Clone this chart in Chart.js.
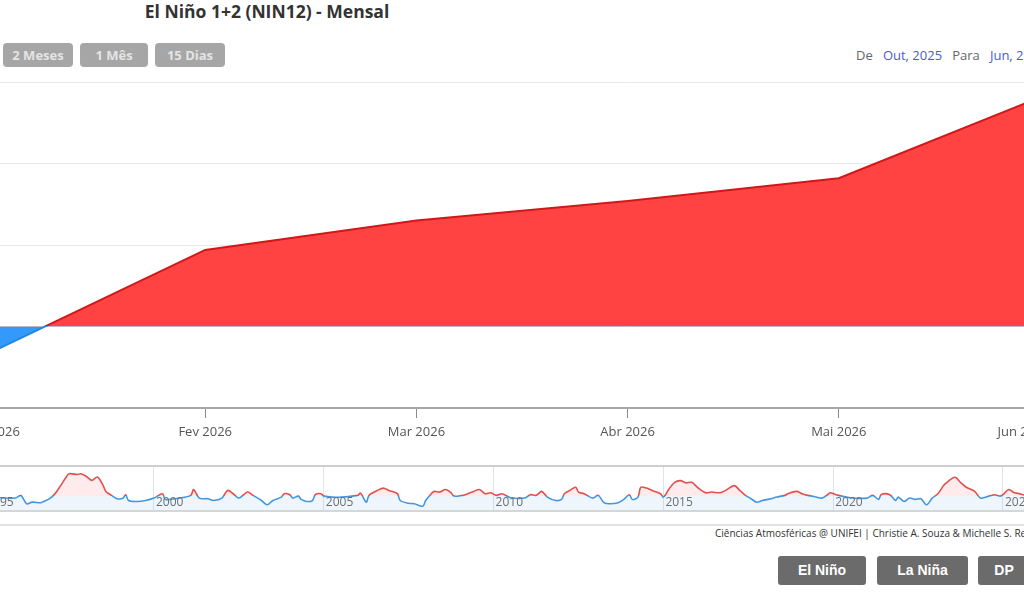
<!DOCTYPE html>
<html lang="pt-BR">
<head>
<meta charset="utf-8">
<title>El Niño 1+2 (NIN12) - Mensal</title>
<script src="https://cdn.jsdelivr.net/npm/chart.js@4.4.0/dist/chart.umd.min.js"></script>
<style>
  html, body { margin: 0; padding: 0; background: #fff; }
  body { width: 1024px; height: 597px; overflow: hidden; position: relative; font-family: "Open Sans", sans-serif; }
  #titulo { position: absolute; left: 0; width: 534px; top: 0; text-align: center; font-weight: bold; font-size: 17.5px; color: #333; line-height: 22px; }
  .botao { position: absolute; top: 43px; height: 24px; line-height: 24px; background: #a6a6a6; color: #e4e4e4; font-weight: bold; font-size: 13px; text-align: center; border-radius: 4px; }
  #periodo { position: absolute; top: 46px; left: 856px; font-size: 13px; color: #666; white-space: nowrap; }
  #periodo span { color: #4a5cc9; }
  .linha { position: absolute; left: 0; width: 1024px; height: 2px; background: #e2e2e2; }
  #creditos { position: absolute; left: 715px; top: 526px; font-size: 10px; color: #333; white-space: nowrap; }
  .acao { position: absolute; top: 556px; height: 29px; line-height: 29px; background: #6b6b6b; color: #fff; font-family: "Liberation Sans", Arial, sans-serif; font-weight: bold; font-size: 14px; text-align: center; border-radius: 3px; }
  canvas { position: absolute; }
</style>
</head>
<body>
<div id="titulo">El Niño 1+2 (NIN12) - Mensal</div>
<div class="botao" style="left:3px;width:70px">2 Meses</div>
<div class="botao" style="left:80px;width:68px">1 Mês</div>
<div class="botao" style="left:155px;width:70px">15 Dias</div>
<div id="periodo">De&nbsp;&nbsp; <span>Out, 2025</span>&nbsp;&nbsp; Para&nbsp;&nbsp; <span>Jun, 2026</span></div>

<canvas id="grafico" width="1760" height="380" style="left:-700px;top:72px"></canvas>
<canvas id="navegador" width="1122" height="45" style="left:-60px;top:466px"></canvas>

<div class="linha" style="top:465px;background:#cfcfcf"></div>
<div class="linha" style="top:510px;background:#d6d6d6"></div>
<div class="linha" style="top:524px"></div>
<div id="creditos">Ciências Atmosféricas @ UNIFEI | Christie A. Souza &amp; Michelle S. Reboita</div>
<div class="acao" style="left:778px;width:88px">El Niño</div>
<div class="acao" style="left:877px;width:91px">La Niña</div>
<div class="acao" style="left:978px;width:52px">DP</div>

<script>
// previsão mensal (eixo principal)
const meses = ["Out 2025", "Nov 2025", "Dez 2025", "Jan 2026", "Fev 2026", "Mar 2026", "Abr 2026", "Mai 2026", "Jun 2026"];
const anomalia = [null, null, null, -0.15, 0.47, 0.65, 0.77, 0.91, 1.43];
const yMin = -0.5, yMax = 1.5, yPasso = 0.5;

// série histórica do navegador
const histDatas = [
  "1995-01", "1995-07", "1995-12", "1996-02", "1996-04", "1996-06", "1996-09", "1996-10", "1996-12",
  "1997-02", "1997-04", "1997-06", "1997-07", "1997-10", "1997-11", "1998-01", "1998-03", "1998-05",
  "1998-07", "1998-08", "1998-10", "1998-12", "1999-02", "1999-03", "1999-04", "1999-07", "1999-10",
  "2000-01", "2000-04", "2000-05", "2000-10", "2001-02", "2001-03", "2001-05", "2001-08", "2001-10",
  "2002-01", "2002-03", "2002-05", "2002-07", "2002-10", "2002-12", "2003-03", "2003-05", "2003-07",
  "2003-10", "2003-11", "2004-01", "2004-02", "2004-04", "2004-05", "2004-07", "2004-09", "2004-10",
  "2004-12", "2005-01", "2005-06", "2006-01", "2006-02", "2006-04", "2006-05", "2006-08", "2006-10",
  "2006-12", "2007-03", "2007-04", "2007-07", "2007-09", "2007-12", "2008-01", "2008-03", "2008-04",
  "2008-06", "2008-08", "2008-10", "2008-11", "2009-02", "2009-03", "2009-06", "2009-08", "2009-10",
  "2009-12", "2010-02", "2010-04", "2010-07", "2010-12", "2011-02", "2011-04", "2011-06", "2011-08",
  "2011-11", "2012-01", "2012-02", "2012-04", "2012-06", "2012-07", "2012-09", "2012-12", "2013-02",
  "2013-04", "2013-06", "2013-09", "2013-11", "2014-01", "2014-02", "2014-04", "2014-05", "2014-07",
  "2014-09", "2014-12", "2015-01", "2015-03", "2015-05", "2015-07", "2015-09", "2015-11", "2016-01",
  "2016-04", "2016-06", "2016-09", "2016-11", "2017-02", "2017-04", "2017-06", "2017-08", "2017-10",
  "2017-12", "2018-03", "2018-05", "2018-08", "2018-09", "2018-12", "2019-02", "2019-04", "2019-07",
  "2019-09", "2019-11", "2019-12", "2020-02", "2020-07", "2021-01", "2021-03", "2021-05", "2021-06",
  "2021-09", "2021-11", "2021-12", "2022-02", "2022-04", "2022-06", "2022-08", "2022-10", "2022-12",
  "2023-02", "2023-04", "2023-05", "2023-08", "2023-10", "2023-12", "2024-03", "2024-05", "2024-07",
  "2024-10", "2024-12", "2025-01", "2025-03", "2025-05", "2025-07", "2025-08"
];
const histValores = [
  -0.2, -0.3, -0.36, 0.1, -1.4, -1.1, -1.2, -0.97, -0.5,
  0.4, 1.9, 3.45, 4.05, 3.9, 4.05, 3.6, 2.85, 3.45,
  1.95, 0.85, 0.13, -0.48, -0.4, 0.25, -0.8, -0.97, -0.8,
  -0.36, 0.42, -0.6, -0.36, 0.13, 1.2, -0.36, -0.48, -0.8,
  -0.36, 1.03, 0.43, -0.36, 0.73, 0.13, -0.8, -1.58, -0.8,
  -0.18, 0.43, 0.25, -0.36, 0, -0.6, -0.97, -0.8, 0.25,
  0.43, 0, -0.2, 0.13, 0.55, -1.1, 0.13, 1.03, 1.45,
  1.03, 0.43, -0.8, -1.3, -1.4, -1.82, -0.8, 0.43, 0.85,
  0.73, 1.2, 0.6, 0, 0.13, 0.25, 0.85, 1.2, 0.43,
  0.6, 0.13, 0.43, -0.3, -0.36, 0.25, 0.13, 0.85, -0.18,
  -0.8, -0.6, 0.43, 1.03, 1.6, 0.73, 0.43, -0.36, 0.13,
  -1.2, -1.4, -1.2, -0.6, 0.25, -0.6, -0.18, 1.6, 1.45,
  1.03, 0.43, -0.18, 1.3, 2.5, 2.8, 2.4, 2.5, 1.6,
  0.6, 0.73, 0.6, 1.03, 1.9, 1.03, 0.13, -0.48, -1.1,
  -0.8, -0.48, -0.18, 0.13, 0.43, 0.85, 0.43, 0.13, -0.18,
  -0.36, 0.25, 0.6, 0.25, -0.3, -0.36, 0.13, -0.6, 0.3,
  0.25, -0.8, -0.18, -0.97, -0.36, -0.6, -0.48, -1.58, -0.36,
  0.43, 1.9, 2.4, 3.4, 2.5, 1.6, 0.85, -0.36, -0.18,
  0.25, 0, 0.25, 1.2, 0.6, 0.43, 0.25
];
const navAnos = [1995, 2000, 2005, 2010, 2015, 2020, 2025];
const navInicio = 1995, navFim = 2026 + 5 / 12;
const navMin = -2.7, navMax = 5.45;

const siglas = { Jan: 1, Fev: 2, Mar: 3, Abr: 4, Mai: 5, Jun: 6, Jul: 7, Ago: 8, Set: 9, Out: 10, Nov: 11, Dez: 12 };

function anoDecimal(ano, mes) {
  return ano + (mes - 1) / 12;
}

// cor acima / abaixo de zero, com corte seco no zero
function gradienteZero(chart, acima, abaixo) {
  const { ctx, chartArea, scales } = chart;
  if (!chartArea) return acima;
  const zero = scales.y.getPixelForValue(0);
  let f = (zero - chartArea.top) / (chartArea.bottom - chartArea.top);
  f = Math.min(Math.max(f, 0), 1);
  const g = ctx.createLinearGradient(0, chartArea.top, 0, chartArea.bottom);
  g.addColorStop(0, acima);
  g.addColorStop(f, acima);
  g.addColorStop(f, abaixo);
  g.addColorStop(1, abaixo);
  return g;
}

// rótulos dos anos dentro do navegador, à direita de cada linha
const rotulosAnos = {
  id: "rotulosAnos",
  afterDatasetsDraw(chart) {
    const { ctx, chartArea, scales } = chart;
    ctx.save();
    ctx.font = "12px 'Open Sans', sans-serif";
    ctx.fillStyle = "#6e6e6e";
    ctx.textAlign = "left";
    ctx.textBaseline = "middle";
    scales.x.ticks.forEach(t => {
      ctx.fillText(String(t.value), scales.x.getPixelForValue(t.value) + 2, chartArea.bottom - 8);
    });
    ctx.restore();
  }
};

Chart.defaults.font.family = "'Open Sans', sans-serif";
Chart.defaults.animation = false;

new Chart(document.getElementById("grafico"), {
  type: "line",
  data: {
    labels: meses,
    datasets: [{
      data: anomalia,
      borderWidth: 2,
      borderColor: ctx => gradienteZero(ctx.chart, "#d01818", "#1f86e6"),
      fill: { target: "origin", above: "#ff4343", below: "#3399fa" },
      pointRadius: 0,
      tension: 0
    }]
  },
  options: {
    responsive: false,
    maintainAspectRatio: false,
    layout: { padding: { left: 60.4, right: 10, top: 10, bottom: 4 } },
    plugins: { legend: { display: false }, tooltip: { enabled: false } },
    scales: {
      x: {
        offset: false,
        afterFit: s => { s.height = 40; },
        border: { color: "#a8a8a8", width: 2 },
        grid: { drawOnChartArea: false, drawTicks: true, tickLength: 10, color: "#8a8a8a" },
        ticks: { align: "inner", maxRotation: 0, autoSkip: false, padding: 6, color: "#555", font: { size: 13 } }
      },
      y: {
        min: yMin,
        max: yMax,
        ticks: { display: false, stepSize: yPasso },
        border: { display: false },
        grid: { color: "#e8e8e8", drawTicks: false }
      }
    }
  }
});

const navPontos = histDatas.map((d, i) => {
  const [a, m] = d.split("-").map(Number);
  return { x: anoDecimal(a, m), y: histValores[i] };
});
meses.forEach((nome, i) => {
  if (anomalia[i] === null) return;
  const [sigla, ano] = nome.split(" ");
  navPontos.push({ x: anoDecimal(Number(ano), siglas[sigla]), y: anomalia[i] });
});

new Chart(document.getElementById("navegador"), {
  type: "line",
  data: {
    datasets: [{
      data: navPontos,
      borderWidth: 1.6,
      borderColor: ctx => gradienteZero(ctx.chart, "#e0504f", "#4596dc"),
      backgroundColor: ctx => gradienteZero(ctx.chart, "rgba(255,90,90,0.12)", "rgba(90,165,230,0.10)"),
      fill: "start",
      pointRadius: 0,
      tension: 0.3
    }]
  },
  options: {
    responsive: false,
    maintainAspectRatio: false,
    layout: { padding: { left: 44.2, right: 10.9, top: 0, bottom: 0 } },
    plugins: { legend: { display: false }, tooltip: { enabled: false } },
    scales: {
      x: {
        type: "linear",
        min: navInicio,
        max: navFim,
        afterFit: s => { s.height = 0; },
        afterBuildTicks: s => { s.ticks = navAnos.map(v => ({ value: v })); },
        border: { display: false },
        grid: { color: "#e4e4e4", drawTicks: false },
        ticks: { display: false }
      },
      y: { display: false, min: navMin, max: navMax }
    }
  },
  plugins: [rotulosAnos]
});
</script>
</body>
</html>
